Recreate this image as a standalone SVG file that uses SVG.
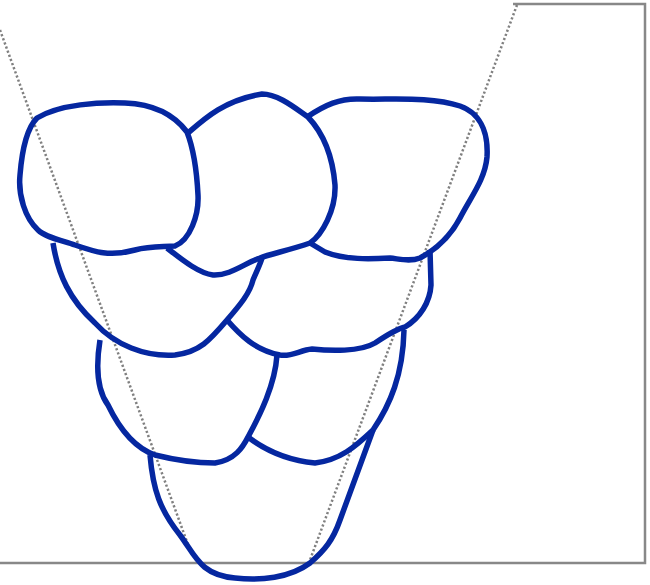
<svg xmlns="http://www.w3.org/2000/svg" width="650" height="585" viewBox="0 0 650 585">
<style>
.frame{fill:none;stroke:#888;stroke-width:2.5}
.dot{fill:none;stroke:#808080;stroke-width:2.5;stroke-dasharray:2.2 2.2}
.blob{fill:none;stroke:#0527a0;stroke-width:5.5;stroke-linejoin:round;stroke-linecap:butt}
</style>
<rect width="650" height="585" fill="#fff"/>
<polyline class="frame" points="513,4 645,4 645,563 0,563"/>
<line class="dot" x1="0" y1="30" x2="190" y2="550"/>
<line class="dot" x1="517" y1="5" x2="310" y2="560"/>
<g id="blobA"><path class="blob" d="M37,118 C60,104 100,102 125,103 C150,104 172,112 187,132 C194,150 197,175 198,195 C199,215 190,240 175,246 C160,247 150,246 135,250 C110,257 95,252 75,245 C60,240 45,237 38,230 C25,218 18,195 20,175 C22,150 27,128 37,118 Z"/></g>
<g id="blobB"><path class="blob" d="M188,133 C205,118 225,100 262,94 C278,94 295,108 308,117 C325,135 333,160 335,185 C336,210 322,235 310,243 C290,250 270,254 260,258 C245,263 230,276 213,275 C198,273 180,258 167,248"/></g>
<g id="blobC"><path class="blob" d="M307,117 C325,105 340,98 360,99 C390,100 430,96 460,106 C485,115 488,140 487,157 C485,180 470,198 460,218 C450,237 435,250 420,258 C410,262 400,259 390,258 C370,259 345,260 325,252 L310,243"/></g>
<g id="blobD"><path class="blob" d="M53,243 C58,275 70,300 95,323 C115,345 145,357 175,355 C200,352 210,340 227,320 C240,305 250,293 253,280 C257,270 260,265 262,258"/></g>
<g id="blobE"><path class="blob" d="M227,320 C240,335 255,350 280,355 C292,357 300,350 312,349 C330,351 360,352 375,343 C390,333 400,328 405,327 C420,318 430,302 431,285 L430,250"/></g>
<g id="blobF"><path class="blob" d="M100,340 C96,365 97,390 108,405 C120,430 135,448 155,455 C175,460 200,463 215,463 C235,460 243,447 248,437 C260,415 275,385 277,355"/></g>
<g id="blobG"><path class="blob" d="M248,437 C265,450 285,460 315,463 C340,460 355,447 373,430 C390,405 403,375 404,330"/></g>
<g id="blobH"><path class="blob" d="M150,455 C153,490 160,510 180,535 C195,555 200,575 235,578 C260,581 290,578 310,563 C325,550 333,540 340,520 L373,430"/></g>
</svg>
